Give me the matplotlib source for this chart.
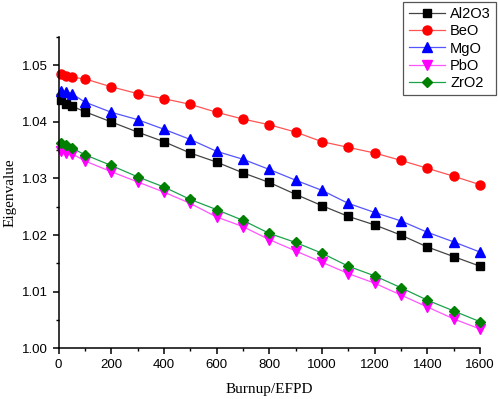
import matplotlib
matplotlib.use("Agg")
import matplotlib.pyplot as plt
from matplotlib.ticker import MultipleLocator

burnup = [10, 30, 50, 100, 200, 300, 400, 500, 600, 700, 800, 900, 1000,
          1100, 1200, 1300, 1400, 1500, 1600]

al2o3 = [1.0438, 1.0432, 1.0428, 1.0418, 1.0400, 1.0382, 1.0365, 1.0345, 1.0329,
         1.0310, 1.0293, 1.0272, 1.0252, 1.0233, 1.0218, 1.0200, 1.0179, 1.0162, 1.0145]
beo = [1.0485, 1.0481, 1.0479, 1.0476, 1.0462, 1.0450, 1.0441, 1.0431, 1.0417,
       1.0405, 1.0395, 1.0382, 1.0365, 1.0355, 1.0345, 1.0332, 1.0318, 1.0304, 1.0289]
mgo = [1.0454, 1.0453, 1.0450, 1.0435, 1.0417, 1.0404, 1.0387, 1.0369, 1.0348,
       1.0334, 1.0316, 1.0297, 1.0279, 1.0256, 1.0240, 1.0225, 1.0205, 1.0188, 1.0170]
pbo = [1.0349, 1.0345, 1.0344, 1.0331, 1.0312, 1.0294, 1.0276, 1.0256, 1.0232,
       1.0215, 1.0192, 1.0172, 1.0152, 1.0132, 1.0115, 1.0094, 1.0073, 1.0052, 1.0034]
zro2 = [1.0363, 1.0360, 1.0354, 1.0342, 1.0323, 1.0303, 1.0285, 1.0263, 1.0245,
        1.0226, 1.0203, 1.0187, 1.0168, 1.0145, 1.0128, 1.0107, 1.0085, 1.0066, 1.0047]

series = [
    ("Al2O3", al2o3, "s", "black", "#444444", 6),
    ("BeO", beo, "o", "red", "#ff5555", 6.5),
    ("MgO", mgo, "^", "blue", "#5555ff", 7),
    ("PbO", pbo, "v", "magenta", "#ff55ff", 7),
    ("ZrO2", zro2, "D", "green", "#1aa34a", 5.5),
]

fig = plt.figure(figsize=(4.98, 3.99), dpi=100)
ax = fig.add_axes([0.1175, 0.1271, 0.8464, 0.7802])

for name, vals, mk, mc, lc, ms in series:
    ax.plot(burnup, vals, color=lc, linewidth=0.9, marker=mk, markersize=ms,
            markerfacecolor=mc, markeredgecolor=mc, label=name, clip_on=False)

ax.set_xlim(0, 1600)
ax.set_ylim(1.000, 1.055)
ax.xaxis.set_major_locator(MultipleLocator(200))
ax.xaxis.set_minor_locator(MultipleLocator(100))
ax.yaxis.set_major_locator(MultipleLocator(0.01))
ax.yaxis.set_minor_locator(MultipleLocator(0.005))
ax.yaxis.set_major_formatter(matplotlib.ticker.FormatStrFormatter("%.2f"))

for s in ("top", "right"):
    ax.spines[s].set_visible(False)
for s in ("left", "bottom"):
    ax.spines[s].set_linewidth(1.1)

ax.tick_params(which="major", direction="out", length=4, width=1.1,
               labelsize=9.5)
ax.tick_params(which="minor", direction="out", length=2.5, width=1.0)
for lab in ax.get_xticklabels() + ax.get_yticklabels():
    lab.set_family("Liberation Sans")

ax.set_xlabel("Burnup/EFPD", family="Liberation Serif", fontsize=11, labelpad=9)
ax.set_ylabel("Eigenvalue", family="Liberation Serif", fontsize=11, labelpad=4)

leg = ax.legend(loc="upper right", bbox_to_anchor=(496 / 498, 1 - 2 / 399),
                bbox_transform=fig.transFigure, borderaxespad=0,
                prop={"family": "Liberation Sans", "size": 10.5},
                fancybox=False, framealpha=1, edgecolor="#555555",
                handlelength=2.5, handletextpad=0.35, labelspacing=0.22,
                borderpad=0.35)
leg.get_frame().set_linewidth(0.9)

fig.savefig("out.png", dpi=100)
